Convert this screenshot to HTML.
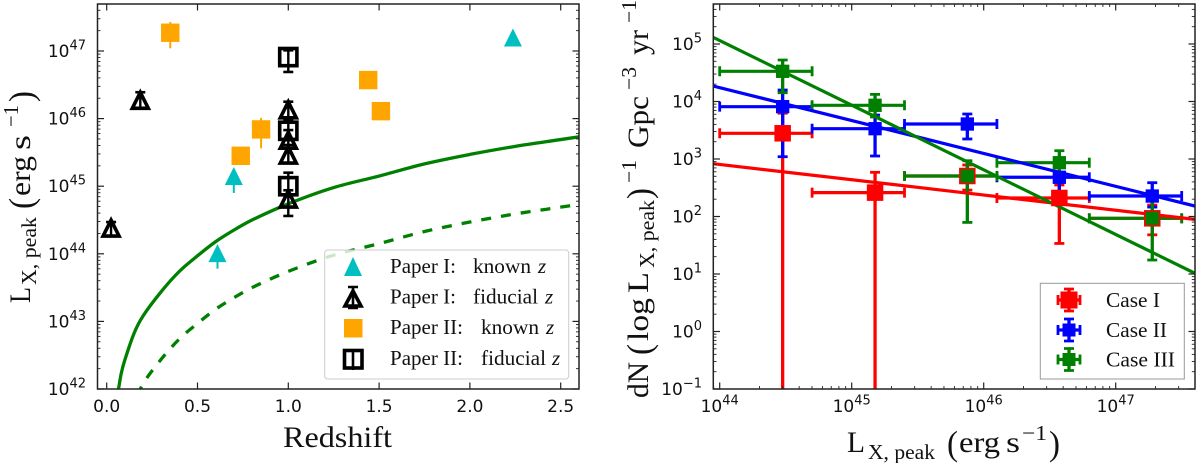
<!DOCTYPE html>
<html lang="en">
<head>
<meta charset="utf-8">
<title>Peak X-ray luminosity charts</title>
<style>
html,body{margin:0;padding:0;background:#fff;}
svg{display:block;}
text{fill:#111;}
.cm{font-family:"Liberation Serif",serif;}
.tick{font-family:"DejaVu Sans",sans-serif;font-size:17px;}
</style>
</head>
<body>
<svg id="chart" xmlns="http://www.w3.org/2000/svg" width="1200" height="463" viewBox="0 0 1200 463">
<defs>
<clipPath id="clip-left"><rect x="97.5" y="4" width="481.5" height="385"/></clipPath>
<clipPath id="clip-right"><rect x="713.3" y="4" width="481.7" height="385"/></clipPath>
</defs>
<g id="left-marks" clip-path="url(#clip-left)"></g>
<g id="right-marks" clip-path="url(#clip-right)"></g>
<g id="left-axes"></g>
<g id="right-axes"></g>

<g class="cm">
<text x="283" y="447" font-size="30" textLength="109" lengthAdjust="spacingAndGlyphs">Redshift</text>
</g>
<g class="cm" transform="translate(30,303) rotate(-90)">
<text x="0" y="0" font-size="30" textLength="16" lengthAdjust="spacingAndGlyphs">L</text>
<text x="18" y="6" font-size="21" textLength="68" lengthAdjust="spacingAndGlyphs">X, peak</text>
<text x="94" y="3" font-size="35" textLength="11" lengthAdjust="spacingAndGlyphs">(</text>
<text x="107" y="0" font-size="30" textLength="40" lengthAdjust="spacingAndGlyphs">erg</text>
<text x="153" y="0" font-size="30" textLength="15" lengthAdjust="spacingAndGlyphs">s</text>
<text x="176" y="-12" font-size="21" textLength="22" lengthAdjust="spacingAndGlyphs">−1</text>
<text x="201" y="3" font-size="35" textLength="11" lengthAdjust="spacingAndGlyphs">)</text>
</g>

<g class="cm">
<text x="847" y="452" font-size="30" textLength="18" lengthAdjust="spacingAndGlyphs">L</text>
<text x="868" y="459" font-size="21" textLength="67" lengthAdjust="spacingAndGlyphs">X, peak</text>
<text x="947" y="455" font-size="35" textLength="11" lengthAdjust="spacingAndGlyphs">(</text>
<text x="959" y="452" font-size="30" textLength="41" lengthAdjust="spacingAndGlyphs">erg</text>
<text x="1006" y="452" font-size="30" textLength="14" lengthAdjust="spacingAndGlyphs">s</text>
<text x="1022" y="440" font-size="21" textLength="25" lengthAdjust="spacingAndGlyphs">−1</text>
<text x="1049" y="455" font-size="35" textLength="11" lengthAdjust="spacingAndGlyphs">)</text>
</g>
<g class="cm" transform="translate(648,398) rotate(-90)">
<text x="0" y="0" font-size="30" textLength="36" lengthAdjust="spacingAndGlyphs">dN</text>
<text x="43" y="3" font-size="35" textLength="11" lengthAdjust="spacingAndGlyphs">(</text>
<text x="57" y="0" font-size="30" textLength="43" lengthAdjust="spacingAndGlyphs">log</text>
<text x="105" y="0" font-size="30" textLength="21" lengthAdjust="spacingAndGlyphs">L</text>
<text x="130" y="6" font-size="21" textLength="68" lengthAdjust="spacingAndGlyphs">X, peak</text>
<text x="199" y="3" font-size="35" textLength="11" lengthAdjust="spacingAndGlyphs">)</text>
<text x="215" y="-12" font-size="21" textLength="23" lengthAdjust="spacingAndGlyphs">−1</text>
<text x="250" y="0" font-size="30" textLength="52" lengthAdjust="spacingAndGlyphs">Gpc</text>
<text x="308" y="-12" font-size="21" textLength="23" lengthAdjust="spacingAndGlyphs">−3</text>
<text x="343" y="0" font-size="30" textLength="25" lengthAdjust="spacingAndGlyphs">yr</text>
<text x="375" y="-12" font-size="21" textLength="23" lengthAdjust="spacingAndGlyphs">−1</text>
</g>

<g>
<rect x="324.7" y="250" width="244" height="129" rx="3" fill="#fff" fill-opacity="0.8" stroke="#ccc" stroke-width="1"/>
<g>
<path d="M353 257 L362 276 L344 276 Z" fill="#00bfc0"/>
<text class="cm" x="390" y="273" font-size="21" textLength="66" lengthAdjust="spacingAndGlyphs">Paper I:</text>
<text class="cm" x="473" y="273" font-size="21" textLength="58" lengthAdjust="spacingAndGlyphs">known</text>
<text class="cm" x="538" y="273" font-size="21" font-style="italic">z</text>
</g>
<g>
<path d="M353 291 L361 306 L345 306 Z" fill="none" stroke="#000" stroke-width="3.6"/>
<path d="M353 287 V308 M348 287 H358 M348 308 H358" fill="none" stroke="#000" stroke-width="2.6"/>
<text class="cm" x="390" y="303.5" font-size="21" textLength="66" lengthAdjust="spacingAndGlyphs">Paper I:</text>
<text class="cm" x="473" y="303.5" font-size="21" textLength="65" lengthAdjust="spacingAndGlyphs">fiducial</text>
<text class="cm" x="545" y="303.5" font-size="21" font-style="italic">z</text>
</g>
<g>
<rect x="344" y="319" width="18.5" height="18.5" fill="#ffa500"/>
<text class="cm" x="390" y="334" font-size="21" textLength="73" lengthAdjust="spacingAndGlyphs">Paper II:</text>
<text class="cm" x="481" y="334" font-size="21" textLength="58" lengthAdjust="spacingAndGlyphs">known</text>
<text class="cm" x="546" y="334" font-size="21" font-style="italic">z</text>
</g>
<g>
<rect x="344.500" y="350.500" width="17.500" height="17.500" fill="none" stroke="#000" stroke-width="3.6"/>
<path d="M353 349 V370" stroke="#000" stroke-width="2.6"/>
<text class="cm" x="390" y="365" font-size="21" textLength="73" lengthAdjust="spacingAndGlyphs">Paper II:</text>
<text class="cm" x="481" y="365" font-size="21" textLength="65" lengthAdjust="spacingAndGlyphs">fiducial</text>
<text class="cm" x="552" y="365" font-size="21" font-style="italic">z</text>
</g>
</g>

<g>
<rect x="1040.3" y="283.3" width="144" height="95.7" fill="#fff" stroke="#999" stroke-width="1"/>
<g stroke="#ff0000" fill="#ff0000">
<rect x="1060.500" y="291.500" width="17" height="17" stroke="none"/>
<path d="M1069 289 V311 M1058 300 H1080" stroke-width="3.3"/>
<path d="M1064 289 H1074 M1064 311 H1074 M1058 295 V305 M1080 295 V305" stroke-width="2.8"/>
</g>
<g stroke="#0000ff" fill="#0000ff">
<rect x="1062.500" y="323.500" width="13" height="13" stroke="none"/>
<path d="M1069 319 V341 M1058 330 H1080" stroke-width="3.3"/>
<path d="M1064 319 H1074 M1064 341 H1074 M1058 325 V335 M1080 325 V335" stroke-width="2.8"/>
</g>
<g stroke="#008000" fill="#008000">
<rect x="1062.500" y="353" width="13" height="13" stroke="none"/>
<path d="M1069 348.500 V370.500 M1058 359.500 H1080" stroke-width="3.3"/>
<path d="M1064 348.500 H1074 M1064 370.500 H1074 M1058 354.500 V364.500 M1080 354.500 V364.500" stroke-width="2.8"/>
</g>
<text class="cm" x="1106" y="307" font-size="21" textLength="54" lengthAdjust="spacingAndGlyphs">Case I</text>
<text class="cm" x="1106" y="337" font-size="21" textLength="61" lengthAdjust="spacingAndGlyphs">Case II</text>
<text class="cm" x="1106" y="366.500" font-size="21" textLength="69" lengthAdjust="spacingAndGlyphs">Case III</text>
</g>
</svg>

<script>
// ---- Left chart data (redshift, log10 luminosity) ----
const leftXTicks = ["0.0", "0.5", "1.0", "1.5", "2.0", "2.5"];
const leftYExponents = [42, 43, 44, 45, 46, 47];

const limitZ = [0.058, 0.065, 0.08, 0.1, 0.15, 0.2, 0.3, 0.4, 0.5, 0.6, 0.7, 0.8, 1.0, 1.25, 1.5, 1.75, 2.0, 2.25, 2.5, 2.6];
const limitLogL = [41.9, 42.0, 42.23, 42.43, 42.82, 43.08, 43.44, 43.74, 43.97, 44.18, 44.35, 44.5, 44.74, 44.98, 45.15, 45.33, 45.47, 45.59, 45.69, 45.73];
const limit10Z = [0.17, 0.2, 0.3, 0.4, 0.5, 0.6, 0.7, 0.8, 1.0, 1.25, 1.5, 1.75, 2.0, 2.25, 2.5, 2.6];
const limit10LogL = [41.9, 42.08, 42.44, 42.74, 42.97, 43.18, 43.35, 43.5, 43.74, 43.98, 44.15, 44.33, 44.47, 44.59, 44.69, 44.73];

const cyanZ = [2.237, 0.70, 0.61];
const cyanLogL = [47.2, 45.15, 44.01];
const cyanLow = [47.2, 44.9, 43.78];

const triZ = [0.185, 0.024, 1, 1, 1, 1];
const triLogL = [46.27, 44.38, 46.13, 45.68, 45.46, 44.81];
const triHigh = [46.39, 44.47, 46.25, 45.83, 45.61, 44.94];
const triLow = [46.16, 44.26, 45.98, 45.57, 45.34, 44.56];

const orangeZ = [0.35, 0.738, 0.85, 1.44, 1.51];
const orangeLogL = [47.27, 45.45, 45.84, 46.57, 46.11];
const orangeHigh = [47.43, 45.45, 46.01, 46.57, 46.11];
const orangeLow = [47.04, 45.45, 45.56, 46.57, 46.11];

const squareZ = [1, 1, 1];
const squareLogL = [46.91, 45.82, 45.0];
const squareHigh = [47.01, 45.95, 45.2];
const squareLow = [46.69, 45.68, 44.87];

// ---- Right chart data (bins in log10 L, rates) ----
const rightXExponents = [44, 45, 46, 47];
const rightYExponents = [-1, 0, 1, 2, 3, 4, 5];

const binCentre = [44.477, 45.177, 45.876, 46.573, 47.277];
const binLow = [44.0, 44.7, 45.4, 46.1, 46.8];
const binHigh = [44.7, 45.4, 46.1, 46.8, 47.5];

const caseIRate = [2800, 260, 506, 210, 93];
const caseIHigh = [6240, 587, 787, 353, 158];
const caseILow = [0.01, 0.01, 288, 34, 48];

const caseIIRate = [8130, 3365, 4060, 481, 227];
const caseIIHigh = [15800, 5820, 6060, 787, 387];
const caseIILow = [1096, 1127, 2228, 267, 146];

const caseIIIRate = [33500, 8590, 506, 862, 93];
const caseIIIHigh = [52700, 13300, 933, 1393, 210];
const caseIIILow = [14200, 5370, 79, 486, 17.5];

const fitLogX = [43.95, 47.6];
const fitCaseI = [828, 89];
const fitCaseII = [18600, 152];
const fitCaseIII = [130700, 10.3];

// ---- Axis functions ----
const xLeft = z => 106.7 + 181.6 * z;
const yLeft = l => 389 - 67.6 * (l - 42);
const xRight = l => 719.7 + 132 * (l - 44);
const yRight = v => 389 - 57.5 * (Math.log10(v) + 1);

const NS = "http://www.w3.org/2000/svg";
function make(parent, tag, attrs) {
  const el = document.createElementNS(NS, tag);
  for (const k in attrs) el.setAttribute(k, attrs[k]);
  parent.appendChild(el);
  return el;
}
function group(parent, name) {
  const el = make(parent, "g", {});
  
  
  return el;
}
function seg(parent, x1, y1, x2, y2, color, width, name) {
  const el = make(parent, "line", {x1, y1, x2, y2, stroke: color, "stroke-width": width});
  
  
  return el;
}
function curve(parent, xs, ys, color, width, dash, name) {
  let d = "M" + xs[0].toFixed(2) + " " + ys[0].toFixed(2);
  for (let i = 0; i < xs.length - 1; i++) {
    const a = Math.max(i - 1, 0), b = Math.min(i + 2, xs.length - 1);
    const h = xs[i + 1] - xs[i];
    const m1 = (ys[i + 1] - ys[a]) / (xs[i + 1] - xs[a]);
    const m2 = (ys[b] - ys[i]) / (xs[b] - xs[i]);
    d += " C" + (xs[i] + h / 3).toFixed(2) + " " + (ys[i] + m1 * h / 3).toFixed(2) + " " + (xs[i + 1] - h / 3).toFixed(2) + " " + (ys[i + 1] - m2 * h / 3).toFixed(2) + " " + xs[i + 1].toFixed(2) + " " + ys[i + 1].toFixed(2);
  }
  const el = make(parent, "path", {d: d, fill: "none", stroke: color, "stroke-width": width});
  if (dash) el.setAttribute("stroke-dasharray", dash);
  
  
  return el;
}
function vErr(parent, x, yHi, yLo, color, width, capW, capT, name) {
  seg(parent, x, yHi, x, yLo, color, width, name + "-bar");
  seg(parent, x - capW / 2, yHi, x + capW / 2, yHi, color, capT, name + "-cap-high");
  seg(parent, x - capW / 2, yLo, x + capW / 2, yLo, color, capT, name + "-cap-low");
}
function hErr(parent, xLo, xHi, y, color, width, capH, capT, name) {
  seg(parent, xLo, y, xHi, y, color, width, name + "-bar");
  seg(parent, xLo, y - capH / 2, xLo, y + capH / 2, color, capT, name + "-cap-low");
  seg(parent, xHi, y - capH / 2, xHi, y + capH / 2, color, capT, name + "-cap-high");
}
function square(parent, cx, cy, size, fill, stroke, sw, name) {
  const el = make(parent, "rect", {x: cx - size / 2, y: cy - size / 2, width: size, height: size, fill: fill, stroke: stroke, "stroke-width": sw});
  
  
  return el;
}
function triangle(parent, cx, cy, half, fill, stroke, sw, name) {
  const d = `M${cx} ${cy - half} L${cx + half} ${cy + half} L${cx - half} ${cy + half} Z`;
  const el = make(parent, "path", {d, fill, stroke, "stroke-width": sw});
  
  
  return el;
}
function powerLabel(parent, x, y, anchor, exp, name) {
  const t = make(parent, "text", {x, y, "text-anchor": anchor, class: "tick"});
  
  
  t.appendChild(document.createTextNode("10"));
  const s = make(t, "tspan", {dy: -7.5, "font-size": 13});
  s.textContent = String(exp).replace("-", "\u2212");
}
function frame(parent, x0, y0, x1, y1, name) {
  const el = make(parent, "rect", {x: x0, y: y0, width: x1 - x0, height: y1 - y0, fill: "none", stroke: "#222", "stroke-width": 1.5});
  
  
}

const TICK = "#222";
const minors = [2, 3, 4, 5, 6, 7, 8, 9];

// ---- Left marks ----
const lm = document.getElementById("left-marks");
const gCurves = group(lm, "flux-limit-curves");
curve(gCurves, limitZ.map(xLeft), limitLogL.map(yLeft), "#008000", 3.3, null, "flux-limit-solid");
curve(gCurves, limit10Z.map(xLeft), limit10LogL.map(yLeft), "#008000", 3.3, "10 10", "flux-limit-dashed");

const gCyan = group(lm, "paper-1-known-series");
cyanZ.forEach((z, i) => {
  const x = xLeft(z);
  seg(gCyan, x, yLeft(cyanLogL[i]), x, yLeft(cyanLow[i]), "#00bfc0", 2, "paper-1-known-limit");
  triangle(gCyan, x, yLeft(cyanLogL[i]), 9, "#00bfc0", "none", 0, "paper-1-known-point");
});
const gTri = group(lm, "paper-1-fiducial-series");
triZ.forEach((z, i) => {
  const x = xLeft(z);
  vErr(gTri, x, yLeft(triHigh[i]), yLeft(triLow[i]), "#000", 2.4, 10, 2.6, "paper-1-fiducial-error");
  triangle(gTri, x, yLeft(triLogL[i]), 8, "none", "#000", 3.6, "paper-1-fiducial-point");
});
const gOrange = group(lm, "paper-2-known-series");
orangeZ.forEach((z, i) => {
  const x = xLeft(z);
  seg(gOrange, x, yLeft(orangeHigh[i]), x, yLeft(orangeLow[i]), "#ffa500", 2, "paper-2-known-error");
  square(gOrange, x, yLeft(orangeLogL[i]), 18.4, "#ffa500", "none", 0, "paper-2-known-point");
});
const gSq = group(lm, "paper-2-fiducial-series");
squareZ.forEach((z, i) => {
  const x = xLeft(z);
  vErr(gSq, x, yLeft(squareHigh[i]), yLeft(squareLow[i]), "#000", 2.4, 10, 2.6, "paper-2-fiducial-error");
  square(gSq, x, yLeft(squareLogL[i]), 17.2, "none", "#000", 3.6, "paper-2-fiducial-point");
});

// ---- Left axes ----
const la = document.getElementById("left-axes");
frame(la, 97.5, 4, 579, 389, "left-axes-frame");
leftXTicks.forEach(lbl => {
  const x = xLeft(parseFloat(lbl));
  seg(la, x, 389, x, 382.5, TICK, 1.2, "left-x-tick-bottom");
  seg(la, x, 4, x, 10.5, TICK, 1.2, "left-x-tick-top");
  const t = make(la, "text", {x, y: 412, "text-anchor": "middle", class: "tick"});
  
  
  t.textContent = lbl;
});
leftYExponents.forEach(e => {
  const y = yLeft(e);
  seg(la, 97.5, y, 104, y, TICK, 1.2, "left-y-tick");
  seg(la, 579, y, 572.5, y, TICK, 1.2, "left-y-tick-right");
  powerLabel(la, 86, y + 6, "end", e, "left-y-tick-label");
});
[41, 42, 43, 44, 45, 46, 47].forEach(e => minors.forEach(m => {
  const y = yLeft(e + Math.log10(m));
  if (y < 4 || y > 389) return;
  seg(la, 97.5, y, 100.5, y, TICK, 0.9, "left-y-minor-tick");
  seg(la, 579, y, 576, y, TICK, 0.9, "left-y-minor-tick-right");
}));

// ---- Right marks: error bars first, then fit lines, then square markers on top ----
const rm = document.getElementById("right-marks");
function drawBars(name, color, rates, highs, lows) {
  const g = group(rm, name + "-error-bars");
  binCentre.forEach((c, i) => {
    const x = xRight(c), y = yRight(rates[i]);
    hErr(g, xRight(binLow[i]), xRight(binHigh[i]), y, color, 3.2, 10, 2.8, name + "-x-error");
    vErr(g, x, yRight(highs[i]), yRight(lows[i]), color, 3.3, 10, 2.8, name + "-y-error");
  });
}
function drawFit(name, color, fit) {
  curve(group(rm, name + "-fit"), fitLogX.map(xRight), fit.map(yRight), color, 3.2, null, name + "-fit-line");
}
function drawPoints(name, color, rates, size) {
  const g = group(rm, name + "-points");
  binCentre.forEach((c, i) => {
    square(g, xRight(c), yRight(rates[i]), size, color, "none", 0, name + "-point");
  });
}
drawBars("case-1", "#ff0000", caseIRate, caseIHigh, caseILow);
drawBars("case-2", "#0000ff", caseIIRate, caseIIHigh, caseIILow);
drawBars("case-3", "#008000", caseIIIRate, caseIIIHigh, caseIIILow);
drawFit("case-1", "#ff0000", fitCaseI);
drawFit("case-2", "#0000ff", fitCaseII);
drawFit("case-3", "#008000", fitCaseIII);
drawPoints("case-1", "#ff0000", caseIRate, 16.5);
drawPoints("case-2", "#0000ff", caseIIRate, 13.3);
drawPoints("case-3", "#008000", caseIIIRate, 13.3);

// ---- Right axes ----
const ra = document.getElementById("right-axes");
frame(ra, 713.3, 4, 1195, 389, "right-axes-frame");
rightXExponents.forEach(e => {
  const x = xRight(e);
  seg(ra, x, 389, x, 382.5, TICK, 1.2, "right-x-tick-bottom");
  seg(ra, x, 4, x, 10.5, TICK, 1.2, "right-x-tick-top");
  powerLabel(ra, x, 412, "middle", e, "right-x-tick-label");
});
[43, 44, 45, 46, 47].forEach(e => minors.forEach(m => {
  const x = xRight(e + Math.log10(m));
  if (x < 713.3 || x > 1195) return;
  seg(ra, x, 389, x, 386, TICK, 0.9, "right-x-minor-tick");
  seg(ra, x, 4, x, 7, TICK, 0.9, "right-x-minor-tick-top");
}));
rightYExponents.forEach(e => {
  const y = yRight(Math.pow(10, e));
  seg(ra, 713.3, y, 720, y, TICK, 1.2, "right-y-tick");
  seg(ra, 1195, y, 1188.5, y, TICK, 1.2, "right-y-tick-right");
  powerLabel(ra, 702, y + 6, "end", e, "right-y-tick-label");
});
[-1, 0, 1, 2, 3, 4, 5].forEach(e => minors.forEach(m => {
  const y = yRight(m * Math.pow(10, e));
  if (y < 4 || y > 389) return;
  seg(ra, 713.3, y, 716.5, y, TICK, 0.9, "right-y-minor-tick");
  seg(ra, 1195, y, 1191.8, y, TICK, 0.9, "right-y-minor-tick-right");
}));
</script>
</body>
</html>
